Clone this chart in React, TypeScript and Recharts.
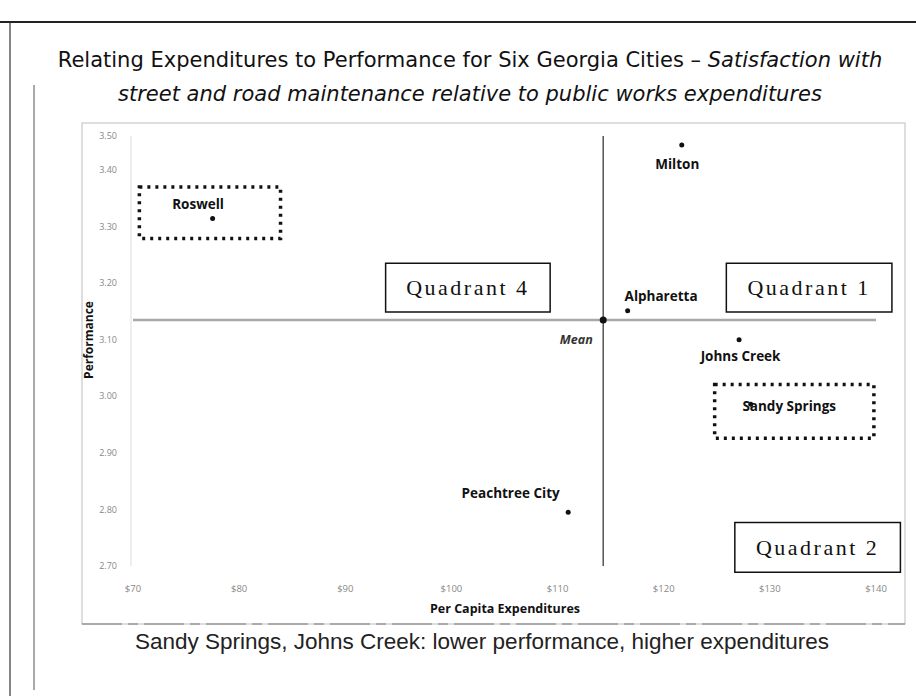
import React from 'react';
import { ScatterChart, Scatter, XAxis, YAxis, ReferenceLine, ReferenceArea, ReferenceDot, LabelList } from 'recharts';

const cities = ['Milton', 'Alpharetta', 'Johns Creek', 'Sandy Springs', 'Peachtree City', 'Roswell'];
const expenditures = [121.7, 116.6, 127.1, 128.2, 111.0, 77.5];
const performance = [3.444, 3.151, 3.1, 2.986, 2.795, 3.314];
const xTicks = [70, 80, 90, 100, 110, 120, 130, 140];
const xTickLabels = ['$70', '$80', '$90', '$100', '$110', '$120', '$130', '$140'];
const yTicks = [2.7, 2.8, 2.9, 3.0, 3.1, 3.2, 3.3, 3.4, 3.46];
const yTickLabels = ['2.70', '2.80', '2.90', '3.00', '3.10', '3.20', '3.30', '3.40', '3.50'];
const meanExpenditure = 114.3;
const meanPerformance = 3.135;

const data = cities.map((c, i) => ({ name: c, x: expenditures[i], y: performance[i] }));

const labelOffsets: Record<string, [number, number]> = {
  'Milton': [0, 23],
  'Alpharetta': [38, -10],
  'Johns Creek': [6, 21],
  'Sandy Springs': [43, 6],
  'Peachtree City': [-53, -15],
  'Roswell': [-10, -10],
};

const W = 916;
const H = 696;

const CityLabel = (props: any) => {
  const { x, y, value } = props;
  const off = labelOffsets[value] || [0, 0];
  return (
    <text x={x + off[0]} y={y + off[1]} textAnchor="middle" dominantBaseline="central"
      fontFamily="'Open Sans', sans-serif" fontWeight={700} fontSize={13.5} fill="#111">
      {value}
    </text>
  );
};

const Dot = (props: any) => {
  const { cx, cy } = props;
  return <circle cx={cx} cy={cy} r={2.5} fill="#111" />;
};

const quadLabel = (text: string) => ({
  value: text,
  position: 'center' as const,
  fontFamily: "'Liberation Serif', serif",
  fontSize: 22,
  letterSpacing: 2.5,
  fill: '#111',
});

export default function App() {
  return (
    <div style={{ position: 'relative', width: W, height: H, background: '#fff' }}>
      <style>{'body{margin:0}'}</style>
      <ScatterChart width={W} height={H} margin={{ top: 136, right: 40, bottom: 70, left: 3 }}>
        <XAxis type="number" dataKey="x" domain={[70, 140]} ticks={xTicks}
          tickFormatter={(v: number) => xTickLabels[xTicks.indexOf(v)]}
          axisLine={false} tickLine={false} tickSize={0} tickMargin={19}
          tick={{ fontSize: 9.5, fill: '#888', fontFamily: "'Open Sans', sans-serif" }} height={60} />
        <YAxis type="number" dataKey="y" domain={[2.7, 3.46]} ticks={yTicks}
          tickFormatter={(v: number) => yTickLabels[yTicks.indexOf(v)]}
          axisLine={false} tickLine={false} tickSize={0} tickMargin={16} width={130}
          tick={{ fontSize: 9, fill: '#888', fontFamily: "'Open Sans', sans-serif" }} />
        <ReferenceLine y={meanPerformance} stroke="#a8a8a8" strokeWidth={2.5} />
        <ReferenceLine x={meanExpenditure} stroke="#555" strokeWidth={1.5} />
        <ReferenceArea x1={93.8} x2={109.3} y1={3.149} y2={3.235} stroke="#111" strokeWidth={1.5}
          fill="#fff" fillOpacity={1} label={quadLabel('Quadrant 4')} />
        <ReferenceArea x1={125.9} x2={141.5} y1={3.149} y2={3.235} stroke="#111" strokeWidth={1.5}
          fill="#fff" fillOpacity={1} ifOverflow="visible" label={quadLabel('Quadrant 1')} />
        <ReferenceArea x1={126.7} x2={142.3} y1={2.689} y2={2.777} stroke="#111" strokeWidth={1.5}
          fill="#fff" fillOpacity={1} ifOverflow="visible" label={quadLabel('Quadrant 2')} />
        <ReferenceArea x1={70.6} x2={83.9} y1={3.279} y2={3.370} stroke="#111" strokeWidth={3.5}
          strokeDasharray="3 5" fill="none" fillOpacity={0} />
        <ReferenceArea x1={124.8} x2={139.8} y1={2.926} y2={3.021} stroke="#111" strokeWidth={3.5}
          strokeDasharray="3 5" fill="none" fillOpacity={0} />
        <ReferenceDot x={meanExpenditure} y={meanPerformance} r={3.5} fill="#111" stroke="none"
          label={{ value: 'Mean', position: 'left', dx: -2, dy: 20, fontStyle: 'italic', fontWeight: 700,
            fontSize: 12.5, fill: '#333', fontFamily: "'Open Sans', sans-serif" }} />
        <Scatter data={data} isAnimationActive={false} shape={<Dot />}>
          <LabelList dataKey="name" content={<CityLabel />} />
        </Scatter>
      </ScatterChart>
      <svg width={W} height={H} style={{ position: 'absolute', left: 0, top: 0, pointerEvents: 'none' }}>
        <line x1={0} y1={22} x2={W} y2={22} stroke="#222" strokeWidth={2} />
        <line x1={10} y1={22} x2={10} y2={H} stroke="#333" strokeWidth={1.2} />
        <line x1={34} y1={85} x2={34} y2={690} stroke="#555" strokeWidth={1} />
        <rect x={82} y={123} width={823} height={501} fill="none" stroke="#c8c8c8" strokeWidth={1.2} />
        <line x1={82} y1={624} x2={905} y2={624} stroke="#777" strokeWidth={1.2} strokeDasharray="40 6 10 6" />
        <line x1={131} y1={136} x2={131} y2={566} stroke="#ddd" strokeWidth={1} />
        <text x={470} y={60} textAnchor="middle" dominantBaseline="central"
          fontFamily="'DejaVu Sans', sans-serif" fontSize={21} fill="#111">
          Relating Expenditures to Performance for Six Georgia Cities – <tspan fontStyle="italic">Satisfaction with</tspan>
        </text>
        <text x={470} y={94} textAnchor="middle" dominantBaseline="central"
          fontFamily="'DejaVu Sans', sans-serif" fontSize={21} fontStyle="italic" fill="#111">
          street and road maintenance relative to public works expenditures
        </text>
        <text x={88} y={340} textAnchor="middle" dominantBaseline="central" transform="rotate(-90 88 340)"
          fontFamily="'Open Sans', sans-serif" fontWeight={700} fontSize={12} fill="#111">
          Performance
        </text>
        <text x={505} y={608} textAnchor="middle" dominantBaseline="central"
          fontFamily="'Open Sans', sans-serif" fontWeight={700} fontSize={12.5} fill="#111">
          Per Capita Expenditures
        </text>
        <text x={482} y={641} textAnchor="middle" dominantBaseline="central"
          fontFamily="'Liberation Sans', sans-serif" fontSize={22.5} fill="#222">
          Sandy Springs, Johns Creek: lower performance, higher expenditures
        </text>
      </svg>
    </div>
  );
}
